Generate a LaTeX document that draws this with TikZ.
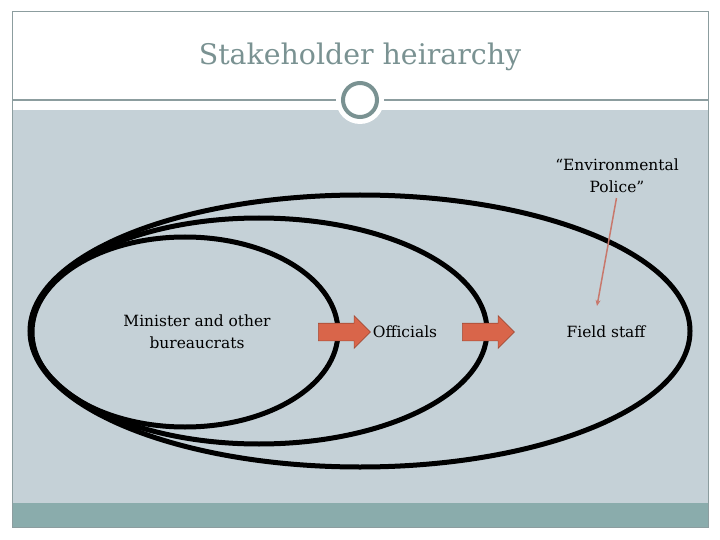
\documentclass[tikz,border=0pt]{standalone}
\usepackage{fontspec}
\setmainfont{DejaVu Serif}
\usepackage{tikz}
\usetikzlibrary{positioning,shapes.arrows,arrows.meta}

\definecolor{slidegrey}{HTML}{C5D1D7}
\definecolor{bandteal}{HTML}{8AACAC}
\definecolor{titlegrey}{HTML}{7A9292}
\definecolor{rulegrey}{HTML}{8C9D9F}
\definecolor{blockred}{HTML}{D9654A}
\definecolor{pointerred}{HTML}{C8786C}

\begin{document}
\begin{tikzpicture}[x=1bp, y=-1bp, font=\fontsize{15.5}{22}\selectfont,
	level/.style={draw=black, line width=5bp},
	blockarrow/.style={single arrow, draw=blockred!75!black, fill=blockred, line width=0.6bp,
		minimum height=52bp, minimum width=32bp, single arrow head extend=7.5bp,
		inner xsep=0pt, inner ysep=8.5bp},
	label/.style={align=center, inner sep=2pt}]
\useasboundingbox (0,0) rectangle (720,540);
% slide background
\fill[slidegrey] (12,110) rectangle (708,503);
\fill[bandteal] (12,503) rectangle (708,527);
\draw[rulegrey, line width=1bp] (12,12) rectangle (708,527);
\draw[rulegrey, line width=1.2bp] (12,100) -- (708,100);
\fill[white] (360,100) circle (24);
\draw[titlegrey, line width=4bp] (360,100) circle (17);
\node[text=titlegrey, font=\fontsize{28.5}{34}\selectfont] (title) at (360,57) {Stakeholder heirarchy};
% nested levels
\draw[level] (360,331) ellipse (330 and 136);
\draw[level] (259,331) ellipse (228 and 113);
\draw[level] (185,332) ellipse (153 and 95);
\node[label]		(minister)	at (197,332)	{Minister and other\\bureaucrats};
\node[blockarrow]	(step1)		at (340,332)	{};
\node[label]		(officials)	at (405,332)	{Officials};
\node[blockarrow]	(step2)		at (484,332)	{};
\node[label]		(field)		at (606,332)	{Field staff};
\node[label]		(police)	at (617,176)	{``Environmental\\Police''};
\coordinate			(fieldtip)	at (597,306);
\draw[pointerred, line width=1.5bp, -{Stealth[length=6bp,width=5bp]}, shorten <=3bp] (police.south) -- (fieldtip);
\end{tikzpicture}
\end{document}
